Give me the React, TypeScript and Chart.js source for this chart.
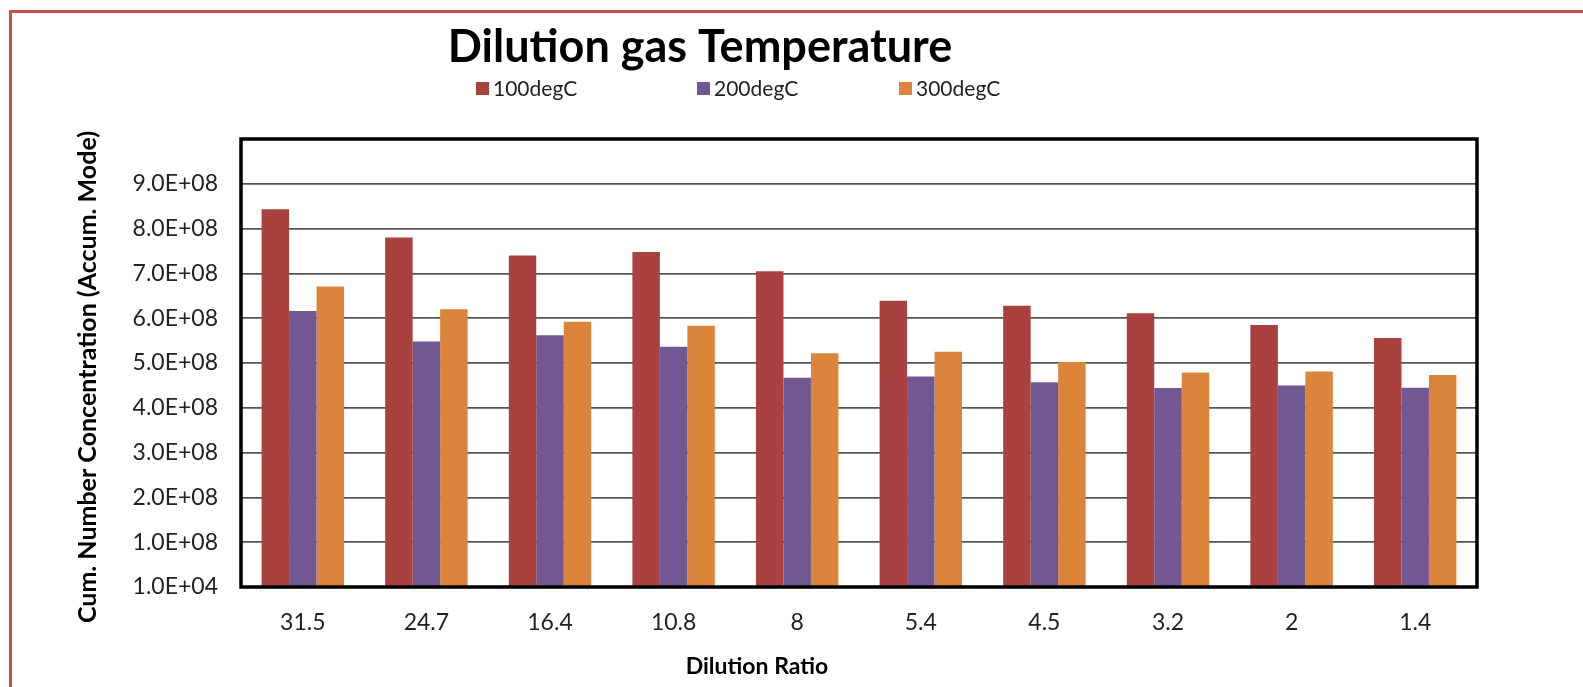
import React, { useEffect, useRef } from 'react';
import { Chart, registerables } from 'chart.js';

Chart.register(...registerables);

// ---- data ----
const categories = ['31.5', '24.7', '16.4', '10.8', '8', '5.4', '4.5', '3.2', '2', '1.4'];
const series100 = [8.43e8, 7.8e8, 7.4e8, 7.48e8, 7.05e8, 6.39e8, 6.28e8, 6.11e8, 5.85e8, 5.56e8];
const series200 = [6.16e8, 5.48e8, 5.62e8, 5.36e8, 4.67e8, 4.7e8, 4.57e8, 4.44e8, 4.5e8, 4.45e8];
const series300 = [6.71e8, 6.2e8, 5.92e8, 5.83e8, 5.22e8, 5.25e8, 5.02e8, 4.79e8, 4.81e8, 4.73e8];
const seriesNames = ['100degC', '200degC', '300degC'];
const seriesColors = ['#A9423F', '#715892', '#DB843B'];
const titleText = 'Dilution gas Temperature';
const yTitleText = 'Cum. Number Concentration (Accum. Mode)';
const xTitleText = 'Dilution Ratio';
const yMin = 1e4;
const yMax = 1e9;
const yStep = 1e8;

const FONT = 'Lato, "Open Sans", sans-serif';

function fmtSci(v: number): string {
  if (v >= yMax) return '';
  const e = Math.floor(Math.log10(v) + 1e-9);
  const m = v / Math.pow(10, e);
  return m.toFixed(1) + 'E+' + String(e).padStart(2, '0');
}

const decorPlugin = {
  id: 'decor',
  afterDatasetsDraw(chart: any) {
    const { ctx, chartArea: a } = chart;
    ctx.save();
    ctx.strokeStyle = '#000';
    ctx.lineWidth = 3.5;
    ctx.strokeRect(a.left, a.top, a.right - a.left, a.bottom - a.top);
    ctx.restore();
  },
  afterDraw(chart: any) {
    const { ctx } = chart;
    ctx.save();
    ctx.fillStyle = '#000';
    // title
    ctx.font = `bold 45px ${FONT}`;
    ctx.textAlign = 'center';
    ctx.textBaseline = 'alphabetic';
    ctx.fillText(titleText, 700, 62);
    // legend
    const legendX = [476, 697, 899];
    ctx.font = `21px ${FONT}`;
    ctx.textAlign = 'left';
    ctx.textBaseline = 'middle';
    seriesNames.forEach((n, i) => {
      ctx.fillStyle = seriesColors[i];
      ctx.fillRect(legendX[i], 82, 13, 13);
      ctx.fillStyle = '#222';
      ctx.fillText(n, legendX[i] + 17, 89);
    });
    // y title
    ctx.fillStyle = '#000';
    ctx.font = `bold 25px ${FONT}`;
    ctx.textAlign = 'center';
    ctx.textBaseline = 'middle';
    ctx.save();
    ctx.translate(88, 377);
    ctx.rotate(-Math.PI / 2);
    ctx.fillText(yTitleText, 0, 0);
    ctx.restore();
    // x title
    ctx.font = `bold 23px ${FONT}`;
    ctx.fillText(xTitleText, 757, 667);
    ctx.restore();
  },
};

export default function App() {
  const ref = useRef<HTMLCanvasElement | null>(null);
  useEffect(() => {
    if (!ref.current) return;
    const chart = new Chart(ref.current, {
      type: 'bar',
      data: {
        labels: categories,
        datasets: [
          { label: seriesNames[0], data: series100, backgroundColor: seriesColors[0] },
          { label: seriesNames[1], data: series200, backgroundColor: seriesColors[1] },
          { label: seriesNames[2], data: series300, backgroundColor: seriesColors[2] },
        ],
      },
      options: {
        animation: false,
        responsive: false,
        devicePixelRatio: 1,
        layout: { padding: { top: 139, right: 106, left: 0, bottom: 55 } },
        datasets: { bar: { categoryPercentage: 0.667, barPercentage: 1.0 } },
        plugins: {
          legend: { display: false },
          title: { display: false },
          tooltip: { enabled: false },
        },
        scales: {
          x: {
            grid: { display: false, drawTicks: false },
            border: { display: false },
            ticks: { color: '#222', font: { family: FONT, size: 23 }, padding: 22 },
            afterFit: (s: any) => {
              s.height = 45;
            },
          },
          y: {
            min: yMin,
            max: yMax,
            grid: { color: '#555', lineWidth: 1.8, drawTicks: false },
            border: { display: false },
            ticks: {
              stepSize: yStep,
              color: '#222',
              font: { family: FONT, size: 23 },
              padding: 23,
              callback: (v: any) => fmtSci(Number(v)),
            },
            afterFit: (s: any) => {
              s.width = 241;
            },
          },
        },
      },
      plugins: [decorPlugin],
    });
    return () => chart.destroy();
  }, []);

  return (
    <div style={{ position: 'absolute', left: 0, top: 0, width: 1583, height: 687, overflow: 'hidden', background: '#fff' }}>
      <div
        style={{
          position: 'absolute',
          left: 9,
          top: 10,
          width: 1583 - 9,
          height: 687 - 10,
          borderTop: '3px solid #C0504D',
          borderLeft: '3px solid #C0504D',
          boxSizing: 'border-box',
        }}
      />
      <canvas ref={ref} width={1583} height={687} style={{ position: 'absolute', left: 0, top: 0, width: 1583, height: 687 }} />
    </div>
  );
}
